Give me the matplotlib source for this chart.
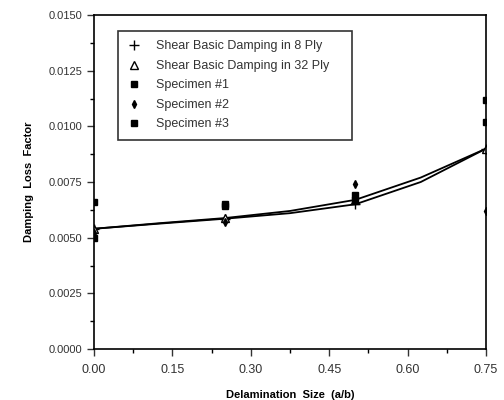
import matplotlib.pyplot as plt
from matplotlib.lines import Line2D
from matplotlib.ticker import MultipleLocator, FormatStrFormatter

plt.rcParams['font.family'] = ['Liberation Sans', 'DejaVu Sans']

# curves
x_curve = [0.0, 0.125, 0.25, 0.375, 0.5, 0.625, 0.75]
ply8 = [0.0054, 0.00563, 0.00585, 0.0061, 0.0065, 0.0075, 0.0090]
ply32 = [0.0054, 0.00565, 0.00588, 0.0062, 0.0067, 0.0077, 0.0090]

x_test = [0.0, 0.25, 0.5, 0.75]
spec1 = [0.0066, 0.0065, 0.0069, 0.0112]
spec2 = [0.0052, 0.0057, 0.0074, 0.0062]
spec3 = [0.0050, 0.0064, 0.0067, 0.0102]

labels = ['Shear Basic Damping in 8 Ply', 'Shear Basic Damping in 32 Ply',
          'Specimen #1', 'Specimen #2', 'Specimen #3']

fig = plt.figure(figsize=(5.04, 4.0), dpi=100)
ax = fig.add_axes([0.1865, 0.1275, 0.778, 0.835])

ax.plot(x_curve, ply8, color='black', lw=1.3, marker='+', ms=7, mew=1.0,
        markevery=[0, 2, 4, 6])
ax.plot(x_curve, ply32, color='black', lw=1.3, marker='^', ms=6, mfc='white', mew=1.0,
        markevery=[0, 2, 4, 6])
ax.plot(x_test, spec1, ls='none', marker='s', ms=5, color='black')
ax.plot(x_test, spec2, ls='none', marker='d', ms=4, color='black')
ax.plot(x_test, spec3, ls='none', marker='s', ms=5, color='black')

ax.set_xlim(0, 0.75)
ax.set_ylim(0, 0.015)
ax.xaxis.set_major_locator(MultipleLocator(0.15))
ax.xaxis.set_minor_locator(MultipleLocator(0.075))
ax.yaxis.set_major_locator(MultipleLocator(0.0025))
ax.yaxis.set_minor_locator(MultipleLocator(0.00125))
ax.xaxis.set_major_formatter(FormatStrFormatter('%.2f'))
ax.yaxis.set_major_formatter(FormatStrFormatter('%.4f'))
ax.tick_params(which='major', direction='out', length=5, width=1, labelsize=8, colors='#333333')
ax.tick_params(which='minor', direction='out', length=3, width=1)
ax.tick_params(axis='x', pad=6, labelsize=9)
for s in ax.spines.values():
    s.set_linewidth(1.2)

ax.set_xlabel('Delamination  Size  (a/b)', fontsize=8, fontweight='bold', labelpad=10)
ax.set_ylabel('Damping  Loss  Factor', fontsize=8, fontweight='bold', labelpad=10)

# legend shows markers only
handles = [
    Line2D([], [], ls='none', marker='+', ms=7, mew=1.0, color='black'),
    Line2D([], [], ls='none', marker='^', ms=6, mfc='white', mew=1.0, color='black'),
    Line2D([], [], ls='none', marker='s', ms=5, color='black'),
    Line2D([], [], ls='none', marker='d', ms=4, color='black'),
    Line2D([], [], ls='none', marker='s', ms=5, color='black'),
]
leg = ax.legend(handles, labels, loc='upper left', bbox_to_anchor=(0.061, 0.952, 0.597, 0),
                mode='expand', borderaxespad=0, fontsize=9, frameon=True, fancybox=False,
                edgecolor='black', handlelength=1.0, handletextpad=1.3,
                labelspacing=0.6, borderpad=0.75)
leg.get_frame().set_linewidth(1.2)
for t in leg.get_texts():
    t.set_color('#333333')

plt.savefig('out.png', dpi=100)
